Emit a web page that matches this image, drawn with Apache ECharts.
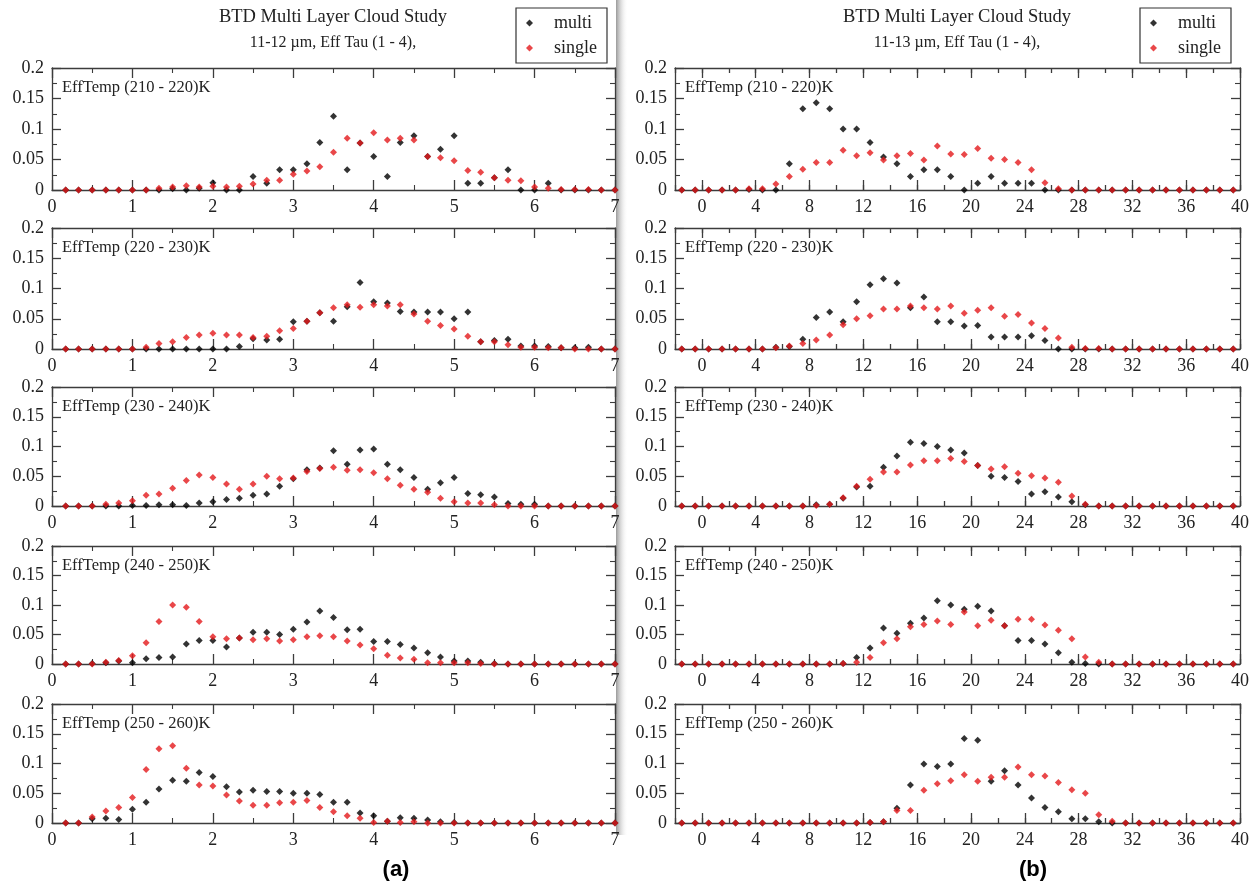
<!DOCTYPE html>
<html>
<head>
<meta charset="utf-8">
<script src="https://cdn.jsdelivr.net/npm/echarts@6/dist/echarts.min.js"></script>
<style>html,body{margin:0;padding:0;background:#fff;}#c{width:1260px;height:888px;}</style>
</head>
<body>
<div id="c"></div>
<script>
// ---------- DATA ----------
const X_LEFT = [0.17,0.33,0.5,0.67,0.83,1,1.17,1.33,1.5,1.67,1.83,2,2.17,2.33,2.5,2.67,2.83,3,3.17,3.33,3.5,3.67,3.83,4,4.17,4.33,4.5,4.67,4.83,5,5.17,5.33,5.5,5.67,5.83,6,6.17,6.33,6.5,6.67,6.83,7];
const X_RIGHT = [-1.5,-0.5,0.5,1.5,2.5,3.5,4.5,5.5,6.5,7.5,8.5,9.5,10.5,11.5,12.5,13.5,14.5,15.5,16.5,17.5,18.5,19.5,20.5,21.5,22.5,23.5,24.5,25.5,26.5,27.5,28.5,29.5,30.5,31.5,32.5,33.5,34.5,35.5,36.5,37.5,38.5,39.5];
const X_LEFT_TICKS = [0,1,2,3,4,5,6,7];
const X_RIGHT_MAJOR = [0,4,8,12,16,20,24,28,32,36,40];
const Y_TICKS = [0,0.05,0.1,0.15,0.2];
const PANEL_LABELS = ['EffTemp (210 - 220)K','EffTemp (220 - 230)K','EffTemp (230 - 240)K','EffTemp (240 - 250)K','EffTemp (250 - 260)K'];
const TITLE = 'BTD Multi Layer Cloud Study';
const SUBTITLE_A = '11-12 \u00b5m, Eff Tau (1 - 4),';
const SUBTITLE_B = '11-13 \u00b5m, Eff Tau (1 - 4),';
const SERIES_NAMES = ['multi','single'];

// (a) 11-12 um
const L1_MULTI  = [0,0,0,0,0,0,0,0,0.002,0,0.003,0.012,0,0,0.022,0.011,0.033,0.033,0.043,0.078,0.121,0.033,0.077,0.055,0.022,0.078,0.089,0.055,0.067,0.089,0.011,0.011,0.02,0.033,0,0,0.011,0,0,0,0,0];
const L1_SINGLE = [0,0,0,0,0,0,0,0.003,0.005,0.007,0.005,0.006,0.005,0.006,0.01,0.016,0.016,0.026,0.031,0.038,0.062,0.085,0.077,0.094,0.082,0.085,0.082,0.055,0.053,0.048,0.032,0.029,0.02,0.016,0.015,0.005,0.003,0.001,0.001,0.001,0,0];
const L2_MULTI  = [0,0,0,0,0,0,0,0,0,0,0,0,0,0.004,0.017,0.015,0.016,0.045,0.046,0.06,0.046,0.07,0.11,0.078,0.076,0.062,0.061,0.061,0.061,0.05,0.061,0.012,0.014,0.016,0.005,0.005,0.004,0.002,0.002,0.003,0,0];
const L2_SINGLE = [0,0,0,0,0,0,0.003,0.009,0.012,0.019,0.023,0.026,0.023,0.023,0.019,0.021,0.03,0.034,0.046,0.06,0.068,0.073,0.069,0.073,0.071,0.073,0.058,0.046,0.039,0.033,0.021,0.012,0.012,0.007,0.003,0.003,0.002,0.002,0,0,0,0];
const L3_MULTI  = [0,0,0,0,0,0.001,0.001,0.002,0.002,0.001,0.005,0.007,0.011,0.013,0.018,0.02,0.033,0.046,0.061,0.064,0.093,0.07,0.094,0.096,0.07,0.061,0.048,0.028,0.039,0.048,0.021,0.019,0.015,0.004,0.003,0.003,0,0,0,0,0,0];
const L3_SINGLE = [0,0,0,0.003,0.005,0.009,0.018,0.02,0.03,0.043,0.052,0.048,0.037,0.028,0.037,0.05,0.046,0.047,0.058,0.063,0.065,0.06,0.061,0.056,0.046,0.035,0.028,0.023,0.013,0.007,0.005,0.005,0.002,0,0,0,0,0,0,0,0,0];
const L4_MULTI  = [0,0,0.001,0.002,0.005,0.002,0.009,0.011,0.012,0.034,0.04,0.04,0.029,0.044,0.054,0.054,0.05,0.059,0.071,0.09,0.079,0.058,0.059,0.038,0.038,0.033,0.027,0.019,0.012,0.005,0.005,0.003,0.001,0,0,0,0,0,0,0,0,0];
const L4_SINGLE = [0,0,0,0.003,0.006,0.014,0.036,0.072,0.1,0.096,0.072,0.046,0.043,0.044,0.041,0.043,0.039,0.041,0.046,0.048,0.046,0.039,0.032,0.026,0.015,0.01,0.008,0.002,0.002,0.002,0.002,0.001,0,0,0,0,0,0,0,0,0,0];
const L5_MULTI  = [0,0,0.007,0.008,0.006,0.023,0.035,0.057,0.072,0.07,0.085,0.078,0.061,0.052,0.055,0.053,0.053,0.05,0.05,0.048,0.035,0.035,0.017,0.012,0.003,0.009,0.008,0.005,0.002,0.001,0,0,0,0,0,0,0,0,0,0,0,0];
const L5_SINGLE = [0,0,0.01,0.02,0.026,0.043,0.09,0.125,0.13,0.092,0.064,0.062,0.047,0.037,0.03,0.03,0.034,0.035,0.038,0.026,0.019,0.012,0.008,0.001,0.003,0.001,0.002,0,0,0,0,0,0,0,0,0,0,0,0,0,0,0];

// (b) 11-13 um
const R1_MULTI  = [0,0,0,0,0,0.001,0,0,0.043,0.133,0.143,0.133,0.1,0.1,0.078,0.054,0.043,0.022,0.033,0.033,0.022,0,0.011,0.022,0.011,0.011,0.011,0,0,0,0,0,0,0,0,0,0,0,0,0,0,0];
const R1_SINGLE = [0,0,0,0,0,0.002,0.002,0.01,0.022,0.034,0.045,0.045,0.065,0.056,0.061,0.049,0.056,0.06,0.049,0.072,0.059,0.058,0.068,0.052,0.05,0.045,0.033,0.012,0.002,0,0,0,0,0,0,0,0,0,0,0,0,0];
const R2_MULTI  = [0,0,0,0,0,0,0,0.003,0.004,0.016,0.052,0.061,0.045,0.078,0.106,0.116,0.109,0.068,0.086,0.045,0.045,0.038,0.039,0.02,0.02,0.02,0.022,0.014,0,0,0,0,0,0,0,0,0,0,0,0,0,0];
const R2_SINGLE = [0,0,0,0,0,0,0,0.002,0.005,0.009,0.015,0.023,0.04,0.05,0.055,0.066,0.066,0.071,0.068,0.066,0.071,0.059,0.064,0.068,0.054,0.057,0.043,0.034,0.018,0.003,0.001,0.001,0,0,0,0,0,0,0,0,0,0];
const R3_MULTI  = [0,0,0,0,0,0,0,0,0,0,0.002,0.003,0.013,0.032,0.033,0.065,0.084,0.107,0.105,0.1,0.094,0.089,0.068,0.05,0.048,0.041,0.02,0.024,0.015,0.007,0.002,0,0,0,0,0,0,0,0,0,0,0];
const R3_SINGLE = [0,0,0,0,0,0,0,0,0,0,0.001,0.003,0.014,0.033,0.045,0.057,0.057,0.069,0.076,0.076,0.08,0.075,0.068,0.062,0.066,0.055,0.051,0.047,0.04,0.017,0.003,0,0,0,0,0,0,0,0,0,0,0];
const R4_MULTI  = [0,0,0,0,0,0,0,0,0,0,0,0,0.001,0.011,0.027,0.061,0.052,0.069,0.078,0.107,0.1,0.093,0.098,0.09,0.065,0.04,0.04,0.034,0.019,0.003,0.001,0,0,0,0,0,0,0,0,0,0,0];
const R4_SINGLE = [0,0,0,0,0,0,0,0,0,0,0,0,0.001,0.003,0.011,0.036,0.043,0.063,0.067,0.073,0.067,0.088,0.065,0.074,0.065,0.076,0.076,0.066,0.057,0.043,0.012,0.003,0,0,0,0,0,0,0,0,0,0];
const R5_MULTI  = [0,0,0,0,0,0,0,0,0,0,0,0,0,0,0.001,0.002,0.025,0.064,0.099,0.095,0.099,0.142,0.139,0.07,0.088,0.064,0.042,0.026,0.019,0.007,0.007,0.002,0,0,0,0,0,0,0,0,0,0];
const R5_SINGLE = [0,0,0,0,0,0,0,0,0,0,0,0,0,0,0.001,0.002,0.021,0.021,0.055,0.066,0.071,0.081,0.07,0.077,0.077,0.094,0.081,0.079,0.068,0.056,0.05,0.014,0.003,0,0,0,0,0,0,0,0,0];

const LEFT_PANELS  = [[L1_MULTI,L1_SINGLE],[L2_MULTI,L2_SINGLE],[L3_MULTI,L3_SINGLE],[L4_MULTI,L4_SINGLE],[L5_MULTI,L5_SINGLE]];
const RIGHT_PANELS = [[R1_MULTI,R1_SINGLE],[R2_MULTI,R2_SINGLE],[R3_MULTI,R3_SINGLE],[R4_MULTI,R4_SINGLE],[R5_MULTI,R5_SINGLE]];

// ---------- LAYOUT / STYLE ----------
const FONT = 'Liberation Serif';
const AX = '#3c3c3c';
const COLORS = ['#000000', '#e3191c'];
const ROW_TOP = [68, 228, 387, 546, 704];
const ROW_H = [122, 121, 119, 118, 119];
const LEFT_X = 52, LEFT_W = 563;
const RIGHT_X = 675, RIGHT_W = 565;

const chart = echarts.init(document.getElementById('c'), null, {renderer: 'canvas', width: 1260, height: 888});

const grids = [], xAxes = [], yAxes = [], series = [], graphics = [];

const lineStyle = {color: AX, width: 1.3};
function addY(g) {
  const base = {type: 'value', gridIndex: g, min: Y_TICKS[0], max: Y_TICKS[Y_TICKS.length - 1], interval: Y_TICKS[1] - Y_TICKS[0],
    axisLine: {show: true, onZero: false, lineStyle}, axisTick: {show: true, inside: true, length: 9, lineStyle},
    minorTick: {show: true, splitNumber: 2, length: 5, lineStyle: {color: AX, width: 1.1}},
    splitLine: {show: false}, minorSplitLine: {show: false}};
  yAxes.push(Object.assign({}, base, {position: 'left', axisLabel: {show: true, margin: 8, color: '#222', fontFamily: FONT, fontSize: 18}}));
  const idx = yAxes.length - 1;
  yAxes.push(Object.assign({}, base, {position: 'right', axisLabel: {show: false}}));
  return idx;
}
function addXLeft(g) {
  const base = {type: 'value', gridIndex: g, min: X_LEFT_TICKS[0], max: X_LEFT_TICKS[X_LEFT_TICKS.length - 1], interval: 1,
    axisLine: {show: true, onZero: false, lineStyle}, axisTick: {show: true, inside: true, length: 10, lineStyle},
    minorTick: {show: true, splitNumber: 2, length: 5, lineStyle: {color: AX, width: 1.1}},
    splitLine: {show: false}, minorSplitLine: {show: false}};
  xAxes.push(Object.assign({}, base, {position: 'bottom', axisLabel: {show: true, margin: 8, color: '#222', fontFamily: FONT, fontSize: 18}}));
  const idx = xAxes.length - 1;
  xAxes.push(Object.assign({}, base, {position: 'top', axisLabel: {show: false}}));
  return idx;
}
function addXRight(g) {
  const lo = -2, hi = 40;
  const minorBase = {type: 'value', gridIndex: g, min: lo, max: hi, interval: 2,
    axisLine: {show: true, onZero: false, lineStyle}, axisTick: {show: true, inside: true, length: 5, lineStyle},
    splitLine: {show: false}};
  const majorBase = {type: 'value', gridIndex: g, min: lo, max: hi,
    axisLine: {show: false, onZero: false}, axisTick: {show: true, inside: true, length: 10, lineStyle, customValues: X_RIGHT_MAJOR},
    axisLabel: {show: false}, splitLine: {show: false}};
  xAxes.push(Object.assign({}, minorBase, {position: 'bottom', axisLabel: {show: true, margin: 8, color: '#222', fontFamily: FONT, fontSize: 18,
    formatter: v => (X_RIGHT_MAJOR.indexOf(v) >= 0 ? String(v) : '')}}));
  const idx = xAxes.length - 1;
  xAxes.push(Object.assign({}, majorBase, {position: 'bottom'}));
  xAxes.push(Object.assign({}, minorBase, {position: 'top', axisLabel: {show: false}}));
  xAxes.push(Object.assign({}, majorBase, {position: 'top'}));
  return idx;
}

function addPanel(col, row, panelData) {
  const g = grids.length;
  grids.push({left: col === 0 ? LEFT_X : RIGHT_X, width: col === 0 ? LEFT_W : RIGHT_W, top: ROW_TOP[row], height: ROW_H[row], containLabel: false});
  const xi = col === 0 ? addXLeft(g) : addXRight(g);
  const yi = addY(g);
  const xs = col === 0 ? X_LEFT : X_RIGHT;
  panelData.forEach((vals, s) => {
    series.push({type: 'scatter', name: SERIES_NAMES[s], xAxisIndex: xi, yAxisIndex: yi,
      symbol: 'diamond', symbolSize: [7, 7], itemStyle: {color: COLORS[s]}, silent: true, animation: false,
      data: xs.map((x, i) => [x, vals[i]])});
  });
  graphics.push({type: 'text', x: (col === 0 ? LEFT_X : RIGHT_X) + 10, y: ROW_TOP[row] + 20,
    style: {text: PANEL_LABELS[row], font: '16.5px "Liberation Serif"', fill: '#222', verticalAlign: 'middle'}});
}
for (let r = 0; r < 5; r++) { addPanel(0, r, LEFT_PANELS[r]); addPanel(1, r, RIGHT_PANELS[r]); }

// page-fold shadow strip
graphics.push({type: 'rect', shape: {x: 616, y: 0, width: 12, height: 835}, z: -1,
  style: {fill: new echarts.graphic.LinearGradient(0, 0, 1, 0, [{offset: 0, color: 'rgba(120,120,120,0.75)'}, {offset: 1, color: 'rgba(255,255,255,0)'}])}});
// titles
[[333, SUBTITLE_A], [957, SUBTITLE_B]].forEach(([cx, sub]) => {
  graphics.push({type: 'text', x: cx, y: 17, style: {text: TITLE, font: '18.5px "Liberation Serif"', fill: '#222', textAlign: 'center', verticalAlign: 'middle'}});
  graphics.push({type: 'text', x: cx, y: 43, style: {text: sub, font: '16px "Liberation Serif"', fill: '#222', textAlign: 'center', verticalAlign: 'middle'}});
});
graphics.push({type: 'text', x: 396, y: 870, style: {text: '(a)', font: 'bold 22px "Liberation Sans"', fill: '#000', textAlign: 'center', verticalAlign: 'middle'}});
graphics.push({type: 'text', x: 1033, y: 870, style: {text: '(b)', font: 'bold 22px "Liberation Sans"', fill: '#000', textAlign: 'center', verticalAlign: 'middle'}});

const legendBase = {data: SERIES_NAMES, orient: 'vertical', top: 8, icon: 'diamond', itemWidth: 7, itemHeight: 7, itemGap: 7,
  padding: [6, 10, 6, 10], backgroundColor: '#fff', borderColor: '#333', borderWidth: 1.2, selectedMode: false,
  textStyle: {fontFamily: FONT, fontSize: 18, color: '#222', padding: [0, 0, 0, 16]}};

chart.setOption({
  animation: false,
  backgroundColor: '#ffffff',
  grid: grids,
  xAxis: xAxes,
  yAxis: yAxes,
  series: series,
  legend: [Object.assign({}, legendBase, {left: 516}), Object.assign({}, legendBase, {left: 1140})],
  graphic: graphics
});
</script>
</body>
</html>
